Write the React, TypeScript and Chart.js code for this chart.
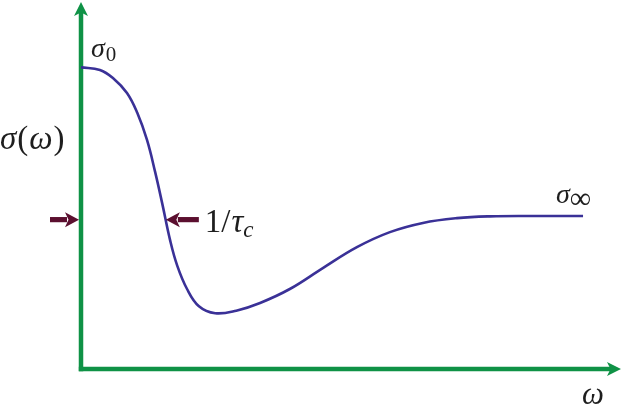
import React, { useEffect, useRef } from "react";
import { Chart, registerables } from "chart.js";

Chart.register(...registerables);

// Frequency (arbitrary units) and conductivity sigma(omega) (arbitrary units)
const omega = [0, 0.35, 0.59, 0.85, 1.04, 1.22, 1.37, 1.50, 1.65, 1.78, 1.96, 2.18, 2.48, 2.87, 3.31, 3.86, 4.47, 5.10, 5.71, 6.32, 6.95, 7.56, 8.30, 9.28];
const sigma = [8.22, 8.15, 7.93, 7.52, 6.98, 6.24, 5.37, 4.52, 3.49, 2.81, 2.18, 1.71, 1.52, 1.59, 1.80, 2.18, 2.75, 3.32, 3.73, 3.98, 4.11, 4.16, 4.17, 4.17];

// Marker level (sigma at omega = 1/tau_c) and its frequency
const markerSigma = [4.07];
const markerOmega = [1.55];

const GREEN = "#0f9246";
const CURVE = "#3a3197";
const MAROON = "#5b0f2f";
const SERIF = "'Liberation Serif', 'DejaVu Serif', serif";

function arrow(ctx: CanvasRenderingContext2D, tailX: number, tipX: number, y: number) {
  const dir = Math.sign(tipX - tailX);
  const headLen = 14;
  const headHalf = 7.5;
  ctx.save();
  ctx.fillStyle = MAROON;
  ctx.strokeStyle = MAROON;
  ctx.lineWidth = 5.2;
  ctx.beginPath();
  ctx.moveTo(tailX, y);
  ctx.lineTo(tipX - dir * (headLen - 2), y);
  ctx.stroke();
  ctx.beginPath();
  ctx.moveTo(tipX, y);
  ctx.lineTo(tipX - dir * headLen, y - headHalf);
  ctx.lineTo(tipX - dir * (headLen - 3.5), y);
  ctx.lineTo(tipX - dir * headLen, y + headHalf);
  ctx.closePath();
  ctx.fill();
  ctx.restore();
}

const decorPlugin = {
  id: "decor",
  beforeDatasetsDraw(chart: any) {
    const { ctx } = chart;
    const xs = chart.scales.x;
    const ys = chart.scales.y;
    const x0 = xs.getPixelForValue(0);
    const y0 = ys.getPixelForValue(0);
    ctx.save();
    ctx.strokeStyle = GREEN;
    ctx.fillStyle = GREEN;
    ctx.lineWidth = 4.5;
    ctx.lineCap = "butt";
    // vertical axis
    ctx.beginPath();
    ctx.moveTo(x0, y0 + 2.2);
    ctx.lineTo(x0, ys.top + 10);
    ctx.stroke();
    ctx.beginPath();
    ctx.moveTo(x0, ys.top);
    ctx.lineTo(x0 - 7, ys.top + 14);
    ctx.lineTo(x0, ys.top + 10.5);
    ctx.lineTo(x0 + 7, ys.top + 14);
    ctx.closePath();
    ctx.fill();
    // horizontal axis
    ctx.beginPath();
    ctx.moveTo(x0 - 2.2, y0);
    ctx.lineTo(xs.right - 10, y0);
    ctx.stroke();
    ctx.beginPath();
    ctx.moveTo(xs.right - 1, y0);
    ctx.lineTo(xs.right - 15, y0 - 7);
    ctx.lineTo(xs.right - 11.5, y0);
    ctx.lineTo(xs.right - 15, y0 + 7);
    ctx.closePath();
    ctx.fill();
    ctx.restore();
  },
  afterDatasetsDraw(chart: any) {
    const { ctx } = chart;
    const xs = chart.scales.x;
    const ys = chart.scales.y;
    const x0 = xs.getPixelForValue(0);
    const y0 = ys.getPixelForValue(0);
    const my = ys.getPixelForValue(markerSigma[0]);
    const mx = xs.getPixelForValue(markerOmega[0]);

    // arrows
    arrow(ctx, x0 - 31, x0 - 2, my);
    arrow(ctx, mx + 34, mx + 1, my);

    ctx.save();
    ctx.fillStyle = "#1e1e1e";
    ctx.textBaseline = "alphabetic";
    ctx.textAlign = "left";

    // sigma_0
    const s0y = ys.getPixelForValue(sigma[0]);
    ctx.font = `italic 28px ${SERIF}`;
    ctx.fillText("σ", x0 + 10, s0y - 10);
    const w0 = ctx.measureText("σ").width;
    ctx.font = `21px ${SERIF}`;
    ctx.fillText("0", x0 + 10 + w0 + 1, s0y - 6);

    // sigma(omega)
    const fs = 33;
    ctx.font = `italic ${fs}px ${SERIF}`;
    let cx = 0;
    const yLab = s0y + 82;
    ctx.fillText("σ", cx, yLab);
    cx += ctx.measureText("σ").width + 1;
    ctx.font = `${fs}px ${SERIF}`;
    ctx.fillText("(", cx, yLab);
    cx += ctx.measureText("(").width + 1;
    ctx.font = `italic ${fs}px ${SERIF}`;
    ctx.fillText("ω", cx, yLab);
    cx += ctx.measureText("ω").width + 1;
    ctx.font = `${fs}px ${SERIF}`;
    ctx.fillText(")", cx, yLab);

    // 1/tau_c
    let tx = mx + 40;
    const ty = my + 12;
    ctx.font = `33px ${SERIF}`;
    ctx.fillText("1/", tx, ty);
    tx += ctx.measureText("1/").width + 1;
    ctx.font = `italic 33px ${SERIF}`;
    ctx.fillText("τ", tx, ty);
    tx += ctx.measureText("τ").width;
    ctx.font = `italic 23px ${SERIF}`;
    ctx.fillText("c", tx, ty + 5);

    // sigma_inf
    const last = sigma.length - 1;
    const ex = xs.getPixelForValue(omega[last]);
    const ey = ys.getPixelForValue(sigma[last]);
    ctx.font = `italic 28px ${SERIF}`;
    ctx.fillText("σ", ex - 27, ey - 13);
    const wi = ctx.measureText("σ").width;
    ctx.font = `30px ${SERIF}`;
    ctx.fillText("∞", ex - 27 + wi, ey - 8);

    // omega
    ctx.font = `italic 31px ${SERIF}`;
    ctx.fillText("ω", xs.right - 40, y0 + 35);
    ctx.restore();
  },
};

export default function App() {
  const ref = useRef<HTMLCanvasElement | null>(null);
  useEffect(() => {
    if (!ref.current) return;
    const chart = new Chart(ref.current, {
      type: "scatter",
      data: {
        datasets: [
          {
            data: omega.map((x, i) => ({ x, y: sigma[i] })),
            showLine: true,
            borderColor: CURVE,
            borderWidth: 2.6,
            pointRadius: 0,
            fill: false,
            tension: 0.4,
          },
        ],
      },
      options: {
        responsive: false,
        animation: false,
        layout: { padding: { left: 81, right: 1, top: 2, bottom: 38 } },
        plugins: {
          legend: { display: false },
          tooltip: { enabled: false },
        },
        scales: {
          x: { type: "linear", min: 0, max: 10, display: false },
          y: { type: "linear", min: 0, max: 10, display: false },
        },
      },
      plugins: [decorPlugin],
    } as any);
    return () => chart.destroy();
  }, []);
  return (
    <div style={{ position: "absolute", left: 0, top: 0, width: 623, height: 407, background: "#fff" }}>
      <canvas ref={ref} width={623} height={407} />
    </div>
  );
}
